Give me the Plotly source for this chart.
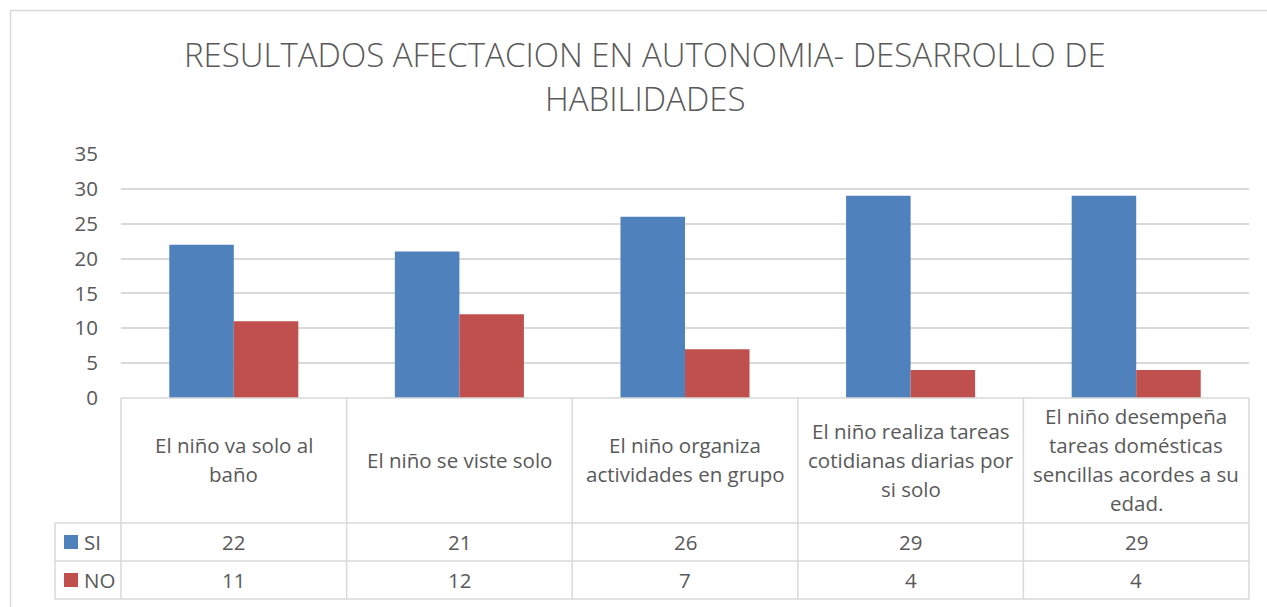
import plotly.graph_objects as go

categories = [
    "El niño va solo al\nbaño",
    "El niño se viste solo",
    "El niño organiza\nactividades en grupo",
    "El niño realiza tareas\ncotidianas diarias por\nsi solo",
    "El niño desempeña\ntareas domésticas\nsencillas acordes a su\nedad.",
]
series_names = ["SI", "NO"]
si_values = [22, 21, 26, 29, 29]
no_values = [11, 12, 7, 4, 4]
colors = ["#4F81BD", "#C0504D"]
title_lines = ["RESULTADOS AFECTACION EN AUTONOMIA- DESARROLLO DE", "HABILIDADES"]

W, H = 1267, 607
L, R, T, B = 121, 18, 154, 209
PW = W - L - R
PH = H - T - B
FONT = "Open Sans"
TXT = "#595959"
GRID = "#D9D9D9"
TS = 20.5


def px(xp):
    return (xp - L) / PW


def py(yp):
    return (H - B - yp) / PH


n = len(categories)
xs = list(range(n))

fig = go.Figure()
for name, vals, col in zip(series_names, [si_values, no_values], colors):
    fig.add_trace(go.Bar(x=xs, y=vals, name=name, marker=dict(color=col, line=dict(width=0)),
                         hoverinfo="y"))

shapes = []
annotations = []

# chart border (right/bottom off-canvas)
shapes.append(dict(type="rect", xref="paper", yref="paper", x0=px(10.5), x1=px(1300), y0=py(10.5), y1=py(640),
                   line=dict(color=GRID, width=1.5), fillcolor="rgba(0,0,0,0)", layer="below"))

# title
for i, (line, yy) in enumerate(zip(title_lines, [54, 99])):
    annotations.append(dict(text=line, xref="paper", yref="paper", x=px(645), y=py(yy), xanchor="center",
                            yanchor="middle", showarrow=False,
                            font=dict(family=FONT, size=33, color=TXT, weight=300)))

# table geometry
row_top = 398
row_cat = 523
row_si = 561
row_no = 599
legend_left = 55
col_edges = [i / n for i in range(n + 1)]  # paper x of column edges

line_style = dict(color=GRID, width=1.5)
for yy, x0 in [(row_top, 0), (row_cat, px(legend_left)), (row_si, px(legend_left)), (row_no, px(legend_left))]:
    shapes.append(dict(type="line", xref="paper", yref="paper", x0=x0, x1=1, y0=py(yy), y1=py(yy), line=line_style))
for ce in col_edges:
    shapes.append(dict(type="line", xref="paper", yref="paper", x0=ce, x1=ce, y0=py(row_top), y1=py(row_no),
                       line=line_style))
shapes.append(dict(type="line", xref="paper", yref="paper", x0=px(legend_left), x1=px(legend_left),
                   y0=py(row_cat), y1=py(row_no), line=line_style))

# category labels
line_h = 29
cat_center = (row_top + row_cat) / 2 - 1
for i, cat in enumerate(categories):
    lines = cat.split("\n")
    k = len(lines)
    xc = (col_edges[i] + col_edges[i + 1]) / 2
    for j, ln in enumerate(lines):
        yy = cat_center + (j - (k - 1) / 2) * line_h
        annotations.append(dict(text=ln, xref="paper", yref="paper", x=xc, y=py(yy), xanchor="center",
                                yanchor="middle", showarrow=False, font=dict(family=FONT, size=TS, color=TXT)))

# values rows
for r, (name, vals, col, (ya, yb)) in enumerate(zip(series_names, [si_values, no_values], colors,
                                                   [(row_cat, row_si), (row_si, row_no)])):
    yc = (ya + yb) / 2
    for i, v in enumerate(vals):
        xc = (col_edges[i] + col_edges[i + 1]) / 2
        annotations.append(dict(text=str(v), xref="paper", yref="paper", x=xc, y=py(yc), xanchor="center",
                                yanchor="middle", showarrow=False, font=dict(family=FONT, size=TS, color=TXT)))
    shapes.append(dict(type="rect", xref="paper", yref="paper", x0=px(64), x1=px(78), y0=py(yc - 7), y1=py(yc + 7),
                       line=dict(width=0), fillcolor=col))
    annotations.append(dict(text=name, xref="paper", yref="paper", x=px(82), y=py(yc), xanchor="left",
                            yanchor="middle", showarrow=False, font=dict(family=FONT, size=TS, color=TXT)))

fig.update_layout(
    width=W, height=H,
    margin=dict(l=L, r=R, t=T, b=B, autoexpand=False),
    paper_bgcolor="white", plot_bgcolor="white",
    barmode="group", bargap=0.428, bargroupgap=0,
    showlegend=False,
    shapes=shapes, annotations=annotations,
    xaxis=dict(range=[-0.5, n - 0.5], showticklabels=False, showgrid=False, zeroline=False, showline=False,
               ticks="", fixedrange=True),
    yaxis=dict(range=[0, 35], dtick=5, showgrid=True, gridcolor=GRID, gridwidth=1.5, zeroline=False,
               showline=False, ticks="", ticklabelstandoff=22,
               tickfont=dict(family=FONT, size=TS, color=TXT), fixedrange=True),
    font=dict(family=FONT, color=TXT),
)

fig.write_html("out.html", config={"displayModeBar": False},
               post_script="document.body.style.margin='0';")
